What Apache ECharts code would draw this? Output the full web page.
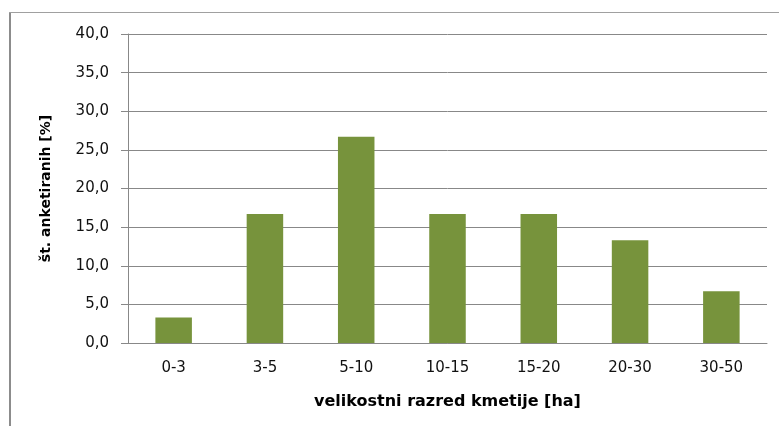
<!DOCTYPE html>
<html>
<head>
<meta charset="utf-8">
<script src="https://cdn.jsdelivr.net/npm/echarts@6/dist/echarts.min.js"></script>
<style>
  html, body { margin: 0; padding: 0; background: #fff; }
  #chart { width: 779px; height: 426px; }
</style>
</head>
<body>
<div id="chart"></div>
<script>
const categories = ["0-3", "3-5", "5-10", "10-15", "15-20", "20-30", "30-50"];
const shares = [3.3, 16.7, 26.7, 16.7, 16.7, 13.3, 6.7];

const font = "DejaVu Sans";
const chart = echarts.init(document.getElementById("chart"));

chart.setOption({
  animation: false,
  grid: { left: 128, right: 12, top: 34, bottom: 83 },
  graphic: [
    // okvir grafikona
    { type: "line", shape: { x1: 10, y1: 12, x2: 10, y2: 426 }, style: { stroke: "#8c8c8c", lineWidth: 2 } },
    { type: "line", shape: { x1: 9, y1: 12.5, x2: 779, y2: 12.5 }, style: { stroke: "#a0a0a0", lineWidth: 1 } }
  ],
  xAxis: {
    type: "category",
    data: categories,
    name: "velikostni razred kmetije [ha]",
    nameLocation: "middle",
    nameGap: 51,
    nameTextStyle: { fontFamily: font, fontSize: 16, fontWeight: "bold", color: "#000" },
    axisLine: { lineStyle: { color: "#888" } },
    axisTick: { length: 6, lineStyle: { color: "#888" } },
    axisLabel: { fontFamily: font, fontSize: 15, color: "#111", margin: 18 }
  },
  yAxis: {
    type: "value",
    min: 0,
    max: 40,
    interval: 5,
    name: "št. anketiranih [%]",
    nameLocation: "middle",
    nameGap: 75,
    nameTextStyle: { fontFamily: font, fontSize: 14, fontWeight: "bold", color: "#000" },
    axisLine: { show: true, lineStyle: { color: "#888" } },
    axisTick: { show: true, length: 7, lineStyle: { color: "#888" } },
    axisLabel: {
      fontFamily: font, fontSize: 15, color: "#111", margin: 19,
      formatter: (v) => v.toFixed(1).replace(".", ",")
    },
    splitLine: { lineStyle: { color: "#888" } }
  },
  series: [
    {
      type: "bar",
      data: shares,
      barWidth: "40%",
      itemStyle: { color: "#77933c" }
    }
  ]
});
</script>
</body>
</html>
